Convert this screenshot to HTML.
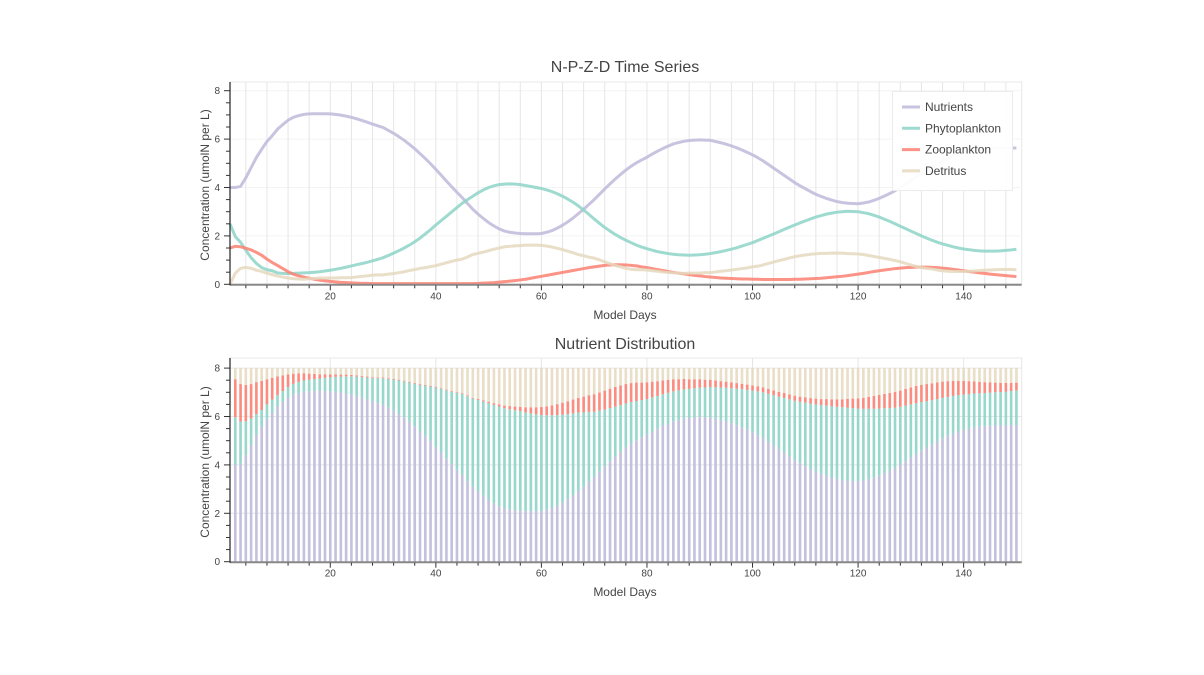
<!DOCTYPE html>
<html><head><meta charset="utf-8"><style>
html,body{margin:0;padding:0;background:#fff;}
svg{display:block;font-family:"Liberation Sans",sans-serif;}
</style></head><body>
<svg id="c" width="1204" height="675" viewBox="0 0 1204 675"></svg>
<script>
const nutrients=[4.00,4.00,4.05,4.40,4.82,5.24,5.58,5.90,6.14,6.41,
6.60,6.78,6.90,6.97,7.02,7.04,7.05,7.05,7.05,7.04,
7.02,6.99,6.95,6.90,6.84,6.77,6.70,6.62,6.55,6.48,
6.36,6.24,6.10,5.95,5.78,5.60,5.40,5.20,4.98,4.75,
4.51,4.27,4.03,3.80,3.58,3.34,3.10,2.90,2.72,2.55,
2.41,2.29,2.20,2.15,2.12,2.10,2.09,2.09,2.09,2.10,
2.15,2.22,2.32,2.44,2.58,2.74,2.92,3.10,3.30,3.50,
3.72,3.94,4.15,4.35,4.54,4.72,4.88,5.02,5.14,5.25,
5.38,5.50,5.61,5.71,5.80,5.86,5.91,5.94,5.96,5.97,
5.96,5.95,5.90,5.85,5.79,5.72,5.64,5.55,5.45,5.35,
5.23,5.10,4.95,4.80,4.65,4.50,4.35,4.20,4.07,3.95,
3.83,3.72,3.63,3.55,3.48,3.42,3.38,3.35,3.34,3.33,
3.36,3.40,3.47,3.55,3.65,3.75,3.87,4.00,4.15,4.30,
4.45,4.60,4.72,4.85,4.98,5.10,5.20,5.30,5.38,5.45,
5.50,5.55,5.58,5.60,5.62,5.63,5.63,5.63,5.63,5.63];
const phyto=[2.50,1.97,1.74,1.41,1.10,0.86,0.69,0.60,0.56,0.47,
0.45,0.44,0.45,0.46,0.47,0.48,0.50,0.52,0.55,0.58,
0.62,0.66,0.71,0.76,0.81,0.86,0.91,0.97,1.03,1.10,
1.19,1.29,1.39,1.50,1.62,1.76,1.91,2.08,2.26,2.45,
2.63,2.81,2.99,3.17,3.35,3.50,3.64,3.78,3.90,4.00,
4.07,4.12,4.14,4.15,4.14,4.12,4.08,4.04,4.00,3.96,
3.90,3.83,3.74,3.64,3.52,3.39,3.24,3.07,2.89,2.70,
2.52,2.35,2.20,2.06,1.93,1.82,1.72,1.62,1.54,1.47,
1.41,1.35,1.31,1.27,1.24,1.22,1.21,1.20,1.21,1.22,
1.24,1.27,1.31,1.35,1.40,1.45,1.51,1.58,1.65,1.72,
1.81,1.90,1.99,2.08,2.17,2.27,2.36,2.45,2.54,2.62,
2.70,2.78,2.84,2.90,2.94,2.98,3.00,3.02,3.01,3.00,
2.96,2.92,2.85,2.78,2.69,2.60,2.50,2.40,2.30,2.20,
2.10,2.00,1.91,1.82,1.74,1.67,1.61,1.55,1.50,1.46,
1.43,1.40,1.38,1.37,1.37,1.37,1.38,1.40,1.42,1.45];
const zoo=[1.50,1.57,1.55,1.49,1.42,1.32,1.20,1.04,0.90,0.78,
0.65,0.52,0.42,0.35,0.30,0.25,0.21,0.17,0.14,0.12,
0.10,0.08,0.07,0.06,0.05,0.04,0.04,0.03,0.03,0.03,
0.03,0.03,0.03,0.03,0.03,0.03,0.03,0.03,0.03,0.03,
0.03,0.03,0.03,0.03,0.03,0.03,0.03,0.04,0.05,0.06,
0.07,0.09,0.11,0.13,0.15,0.18,0.21,0.25,0.29,0.33,
0.37,0.41,0.45,0.49,0.53,0.57,0.61,0.65,0.69,0.72,
0.75,0.78,0.80,0.81,0.81,0.80,0.78,0.76,0.72,0.69,
0.65,0.61,0.57,0.53,0.49,0.46,0.43,0.40,0.37,0.35,
0.32,0.30,0.28,0.26,0.25,0.24,0.23,0.22,0.22,0.21,
0.21,0.20,0.20,0.20,0.20,0.20,0.20,0.21,0.21,0.22,
0.23,0.24,0.25,0.27,0.29,0.31,0.33,0.36,0.39,0.42,
0.45,0.49,0.53,0.56,0.59,0.62,0.65,0.67,0.69,0.70,
0.71,0.71,0.71,0.70,0.69,0.67,0.65,0.62,0.59,0.56,
0.53,0.50,0.47,0.45,0.42,0.40,0.38,0.36,0.34,0.32];
const detritus=[0.00,0.46,0.66,0.70,0.66,0.58,0.53,0.46,0.40,0.34,
0.30,0.26,0.23,0.22,0.21,0.23,0.24,0.26,0.26,0.26,
0.26,0.27,0.27,0.28,0.30,0.33,0.35,0.38,0.39,0.39,
0.42,0.44,0.48,0.52,0.57,0.61,0.66,0.69,0.73,0.77,
0.83,0.89,0.95,1.00,1.04,1.13,1.23,1.28,1.33,1.39,
1.45,1.50,1.55,1.57,1.59,1.60,1.62,1.62,1.62,1.61,
1.58,1.54,1.49,1.43,1.37,1.30,1.23,1.18,1.12,1.08,
1.01,0.93,0.85,0.78,0.72,0.66,0.62,0.60,0.60,0.59,
0.56,0.54,0.51,0.49,0.47,0.46,0.45,0.46,0.46,0.46,
0.48,0.48,0.51,0.54,0.56,0.59,0.62,0.65,0.68,0.72,
0.75,0.80,0.86,0.92,0.98,1.03,1.09,1.14,1.18,1.21,
1.24,1.26,1.28,1.28,1.29,1.29,1.29,1.27,1.26,1.25,
1.23,1.19,1.15,1.11,1.07,1.03,0.98,0.93,0.86,0.80,
0.74,0.69,0.66,0.63,0.59,0.56,0.54,0.53,0.53,0.53,
0.54,0.55,0.57,0.58,0.59,0.60,0.61,0.61,0.61,0.60];
const xTicks=[20,40,60,80,100,120,140];
const yTicks=[0,2,4,6,8];
const seriesNames=["Nutrients","Phytoplankton","Zooplankton","Detritus"];

const colors=["#bebada","#8dd3c7","#fb8072","#e5d8bd"];
const NS="http://www.w3.org/2000/svg";
const svg=document.getElementById('c');
function el(tag,attrs,parent){const e=document.createElementNS(NS,tag);for(const k in attrs)e.setAttribute(k,attrs[k]);(parent||svg).appendChild(e);return e;}
const X0=230,X1=1021.7,D0=1,D1=151;
const sx=d=>X0+(d-D0)/(D1-D0)*(X1-X0);
const series=[nutrients,phyto,zoo,detritus];
const keys=["nutrients","phytoplankton","zooplankton","detritus"];

function panel(top,bottom,zeroY,title,titleY,xlabY,name,minorGrid){
  const sy=v=>zeroY-v*24.2;
  const g=el('g',{});
  
  
  el('rect',{x:X0,y:top,width:X1-X0,height:bottom-top,fill:'none',stroke:'#e8e8e8','stroke-width':1},g);
  yTicks.forEach(v=>{if(v>0)el('line',{x1:X0,x2:X1,y1:sy(v),y2:sy(v),stroke:minorGrid?'#f4f4f4':'#e6e6e6','stroke-width':1},g);});
  if(minorGrid){for(let d=4;d<=150;d+=4)el('line',{x1:sx(d),x2:sx(d),y1:top,y2:bottom,stroke:'#e6e6e6','stroke-width':1},g);}
  else xTicks.forEach(d=>el('line',{x1:sx(d),x2:sx(d),y1:top,y2:bottom,stroke:'#e6e6e6','stroke-width':1},g));
  const t=el('text',{x:625,y:titleY,'text-anchor':'middle','font-size':16,fill:'#444'},g);t.textContent=title;
  
  
  const xl=el('text',{x:625,y:xlabY,'text-anchor':'middle','font-size':12,fill:'#444'},g);xl.textContent='Model Days';
  
  
  const yl=el('text',{x:0,y:0,'text-anchor':'middle','font-size':12,fill:'#444',transform:`translate(209,${(top+bottom)/2+2}) rotate(-90)`},g);yl.textContent='Concentration (umolN per L)';
  
  
  return {g,sy};
}
function axes(g,sy,zeroY,top){
  el('line',{x1:X0,x2:X1,y1:zeroY+0.5,y2:zeroY+0.5,stroke:'#888','stroke-width':2},g);
  el('line',{x1:X0,x2:X0,y1:top,y2:zeroY+1,stroke:'#222','stroke-width':1.2},g);
  for(let d=4;d<=150;d+=4)el('line',{x1:sx(d),x2:sx(d),y1:zeroY+1,y2:zeroY+(d%20==0?6:4),stroke:'#333','stroke-width':1},g);
  xTicks.forEach(d=>{const t=el('text',{x:sx(d),y:zeroY+15,'text-anchor':'middle','font-size':10,fill:'#444'},g);t.textContent=d;
    
    });
  for(let v=0;v<=8.3;v+=0.5){const maj=Math.abs(v%2)<1e-9;el('line',{x1:X0-(maj?6:4),x2:X0,y1:sy(v),y2:sy(v),stroke:'#333','stroke-width':1},g);}
  yTicks.forEach(v=>{const t=el('text',{x:X0-10,y:sy(v)+3.5,'text-anchor':'end','font-size':10,fill:'#444'},g);t.textContent=v;
    
    });
}

// Top panel
const P1=panel(82,284,284.3,'N-P-Z-D Time Series',72,319,'time-series-chart',true);
series.forEach((s,i)=>{
  const d=s.map((v,j)=>(j?'L':'M')+sx(j+1).toFixed(2)+','+P1.sy(v).toFixed(2)).join(' ');
  const p=el('path',{d,fill:'none',stroke:colors[i],'stroke-width':3,'stroke-opacity':0.85,'stroke-linejoin':'round'},P1.g);
  
  
});
axes(P1.g,P1.sy,284.3,82);
const lg=el('g',{},P1.g);


el('rect',{x:892.5,y:91.5,width:120,height:99,fill:'#fff','fill-opacity':0.95,stroke:'#ececec'},lg);
seriesNames.forEach((n,i)=>{
  const y=107+i*21.3;
  const e=el('g',{},lg);
  
  
  el('line',{x1:902,x2:920,y1:y,y2:y,stroke:colors[i],'stroke-width':3,'stroke-opacity':0.85},e);
  const t=el('text',{x:925,y:y+4,'font-size':12,fill:'#444'},e);t.textContent=n;
});

// Bottom panel
const P2=panel(358,562,561.7,'Nutrient Distribution',349,596,'distribution-chart',false);
const bw=0.5*(X1-X0)/(D1-D0);
for(let j=1;j<nutrients.length;j++){
  let base=0;
  series.forEach((s,i)=>{
    const v=s[j];const y0=P2.sy(base),y1=P2.sy(base+v);
    const r=el('rect',{x:(sx(j+1)-bw/2).toFixed(2),y:y1.toFixed(2),width:bw.toFixed(2),height:Math.max(0,y0-y1).toFixed(2),fill:colors[i],'fill-opacity':i==3?0.85:0.9},P2.g);
    
    
    base+=v;
  });
}
axes(P2.g,P2.sy,561.7,358);
</script>
</body></html>
